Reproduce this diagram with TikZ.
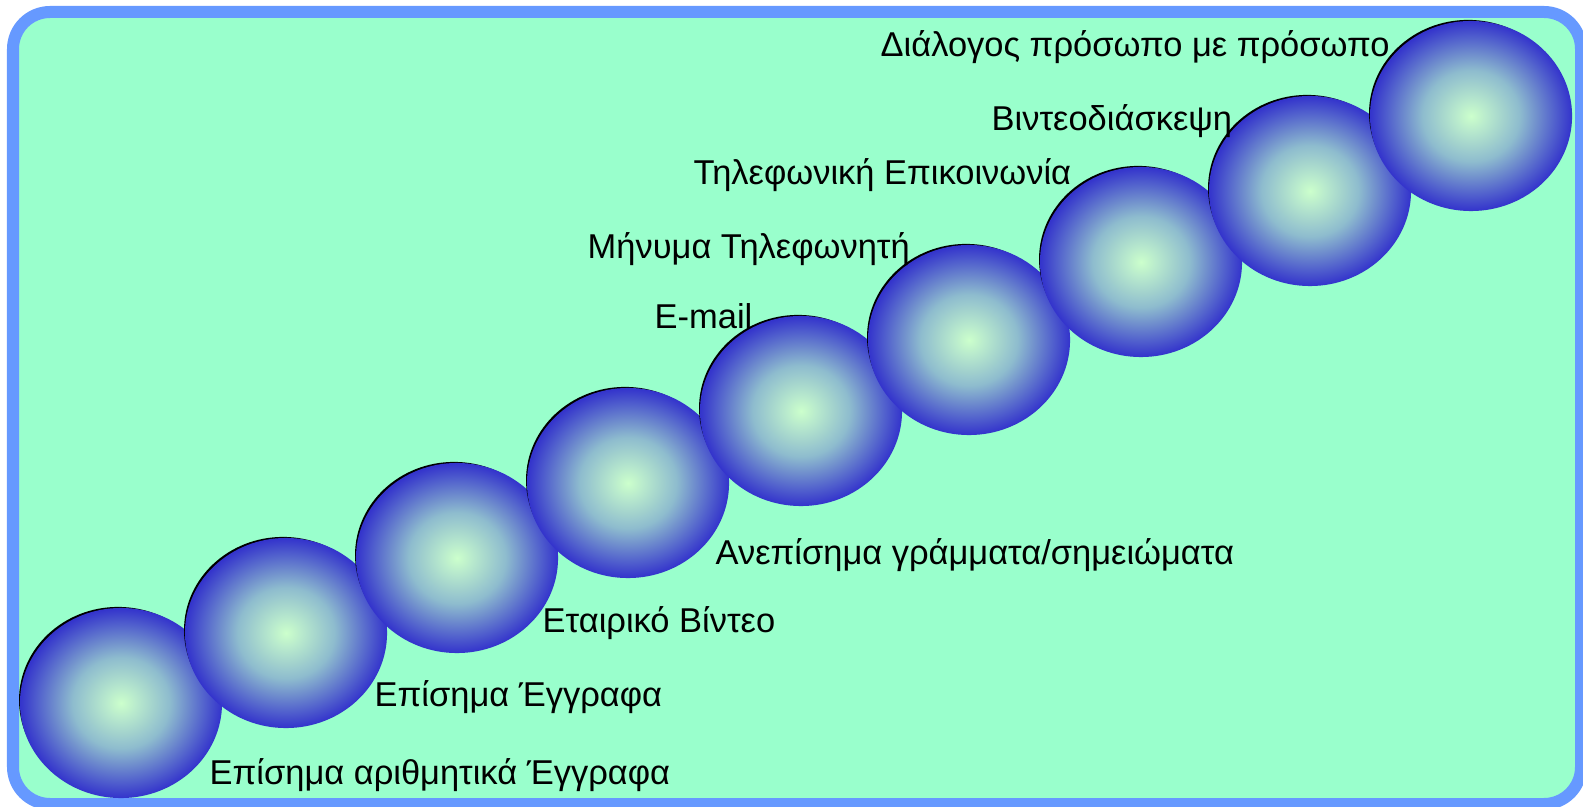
\documentclass[tikz,border=0pt]{standalone}
\usepackage{fontspec}
\setmainfont{Liberation Sans}
\usetikzlibrary{shapes.geometric,shadows}
\definecolor{frameblue}{HTML}{6699FF}
\definecolor{mint}{HTML}{99FFCC}
\definecolor{ballcore}{HTML}{CCFFCC}
\definecolor{ballmid}{RGB}{142,188,206}
\definecolor{ballrim}{HTML}{3333CC}
\pgfdeclareradialshading{ballglow}{\pgfpoint{0bp}{0bp}}{color(0bp)=(ballcore); color(12bp)=(ballmid); color(25bp)=(ballrim); color(50bp)=(ballrim)}
\tikzset{
  ball/.style={ellipse, minimum width=2.02cm, minimum height=1.9cm, inner sep=0pt,
    shading=ballglow,
    general shadow={fill=black, shadow scale=0.98, shadow xshift=-0.03cm, shadow yshift=0.03cm}},
  lbl/.style={anchor=base west, inner sep=0pt, font=\fontsize{9.8}{11}\selectfont}
}
\begin{document}
\begin{tikzpicture}[x=0.01cm, y=-0.01cm]
                \useasboundingbox (0,0) rectangle (1583,807);
                \draw [frameblue, line width=0.12cm, fill=mint, rounded corners=0.37cm] (13,12) rectangle (1581,804);

                % spheres, lowest first
                \foreach \x/\y [count=\i] in {121/703, 286/633, 457/558, 628/483, 801/411,
                                              969/340, 1141/262, 1310/191, 1471/116}
                    \node [ball] (b\i) at (\x,\y) {};

                \node [lbl] (l1) at (209,784) {Επίσημα αριθμητικά Έγγραφα};
                \node [lbl] (l2) at (374,706) {Επίσημα Έγγραφα};
                \node [lbl] (l3) at (542,632) {Εταιρικό Βίντεο};
                \node [lbl] (l4) at (715,564) {Ανεπίσημα γράμματα/σημειώματα};
                \node [lbl] (l5) at (654,329) {E-mail};
                \node [lbl] (l6) at (587,259) {Μήνυμα Τηλεφωνητή};
                \node [lbl] (l7) at (693,185) {Τηλεφωνική Επικοινωνία};
                \node [lbl] (l8) at (991,131) {Βιντεοδιάσκεψη};
                \node [lbl] (l9) at (880,57) {Διάλογος πρόσωπο με πρόσωπο};
            \end{tikzpicture}
\end{document}
